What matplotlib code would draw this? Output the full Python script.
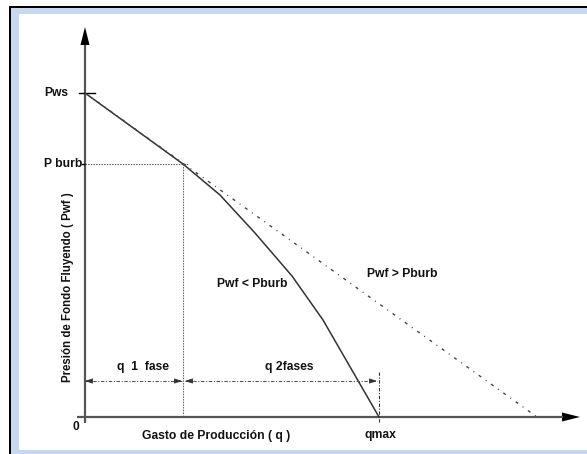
import matplotlib
matplotlib.use("Agg")
import matplotlib.pyplot as plt
from matplotlib.patches import Rectangle

# ---- data (schematic units) ----
p_ws = 324          # static reservoir pressure
p_b = 253           # bubble-point pressure
q_b = 98            # rate at bubble point
q_max = 294         # maximum rate (two-phase IPR)
q_line = [0, 98]                     # single-phase straight IPR
p_line = [324, 253]
q_curve = [98, 135, 170, 207, 238, 294]   # two-phase (Vogel-type) curve
p_curve = [253, 222, 184, 141, 97, 0]
q_ipr = [0, 452]                     # extended straight line
p_ipr = [324, 0]
tick_labels = ["Pws", "P burb", "0", "qmax"]

W, H = 587, 454
fig = plt.figure(figsize=(W / 100, H / 100), dpi=100)
fig.patch.set_facecolor("white")

def frect(x0, y0, x1, y1, color, z):
    fig.add_artist(Rectangle((x0 / W, 1 - y1 / H), (x1 - x0) / W, (y1 - y0) / H,
                             transform=fig.transFigure, facecolor=color,
                             edgecolor="none", zorder=z))

# frame
frect(9, 6, W, H, "black", -10)
frect(11, 8, W, H, "#C6D9F1", -9)
frect(19, 14, W, 450, "white", -8)

ax = fig.add_axes([0, 0, 1, 1])
ax.set_xlim(-85, W - 85)
ax.set_ylim(417 - H, 417)
ax.axis("off")
ax.patch.set_alpha(0)

axc = "#555555"
lc = "#333333"
font = dict(family="Liberation Sans", fontweight="bold", color="#111111")

# axes lines with arrows
ax.plot([0, 0], [-6, 372], color=axc, lw=1.6, solid_capstyle="butt")
ax.plot([-8, 478], [0, 0], color=axc, lw=1.6, solid_capstyle="butt")
ax.add_patch(plt.Polygon([[-4.5, 372], [4.5, 372], [0, 390]], closed=True,
                         facecolor="black", edgecolor="none"))
ax.add_patch(plt.Polygon([[477, 4.5], [477, -4.5], [495, 0]], closed=True,
                         facecolor="black", edgecolor="none"))

# ticks
ax.plot([-6, 10], [p_ws, p_ws], color="black", lw=1.0)
ax.plot([-3, 0], [p_b, p_b], color="black", lw=1.0)

# curves
ax.plot(q_line, p_line, color=lc, lw=1.1)
ax.plot(q_curve, p_curve, color=lc, lw=1.1)
ax.plot(q_ipr, p_ipr, color="#444444", lw=1.0, linestyle=(0, (2.2, 4, 0.7, 4)))

# guide lines
ax.plot([0, q_b + 5], [p_b, p_b], color="#555555", lw=0.8, linestyle=(0, (1.2, 1.2)))
ax.plot([q_b, q_b], [p_b, 2], color="#555555", lw=0.8, linestyle=(0, (1.2, 1.2)))
ax.plot([q_max, q_max], [45, -6], color="#333333", lw=0.8, linestyle=(0, (3, 1.5, 1, 1.5)))

# rate-range arrows
ya = 36
dash = (0, (3, 1.5, 1, 1.5))
for x0, x1 in [(0, q_b - 1), (q_b + 2, q_max - 2)]:
    ax.plot([x0, x1], [ya, ya], color="#555555", lw=0.8, linestyle=dash)
    for tip, frm in [(x0, x0 + 6), (x1, x1 - 6)]:
        ax.annotate("", xy=(tip, ya), xytext=(frm, ya),
                    arrowprops=dict(arrowstyle="-|>,head_length=0.45,head_width=0.15",
                                    color="#333333", lw=0.6, shrinkA=0, shrinkB=0))

# texts
fs = 8.7
ax.text(-17, p_ws, tick_labels[0], ha="right", va="center", fontsize=fs, **font)
ax.text(-3, p_b, tick_labels[1], ha="right", va="center", fontsize=fs, **font)
ax.text(-9, -10, tick_labels[2], ha="center", va="center", fontsize=fs, **font)
ax.text(q_max + 1, -18, tick_labels[3], ha="center", va="center", fontsize=fs, **font)
ax.text(131, -19, "Gasto de Producción ( q )", ha="center", va="center", fontsize=fs, **font)
ax.text(-17, 130, "Presión de Fondo Fluyendo ( Pwf )", ha="center", va="center",
        rotation=90, fontsize=8.3, **font)
ax.text(58, 50, "q  1  fase", ha="center", va="center", fontsize=fs, **font)
ax.text(204, 50, "q 2fases", ha="center", va="center", fontsize=fs, **font)
ax.text(167, 133, "Pwf < Pburb", ha="center", va="center", fontsize=fs, **font)
ax.text(317, 143, "Pwf > Pburb", ha="center", va="center", fontsize=fs, **font)

fig.savefig("out.png", dpi=100)
